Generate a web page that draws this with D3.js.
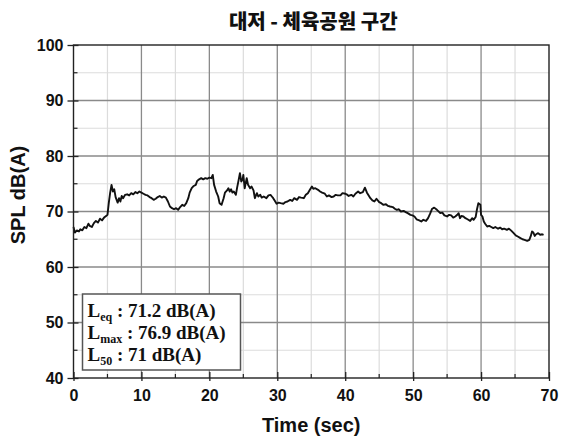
<!DOCTYPE html>
<html>
<head>
<meta charset="utf-8">
<script src="https://cdn.jsdelivr.net/npm/d3@7"></script>
<style>
  body { margin: 0; background: #fff; }
  svg { display: block; }
</style>
</head>
<body>
<div id="chart"></div>
<script>
// chart data
var chartTitle = "대저 - 체육공원 구간";
var xTicks = [0, 10, 20, 30, 40, 50, 60, 70];
var yTicks = [40, 50, 60, 70, 80, 90, 100];
var statNames = ["eq", "max", "50"];
var statValues = ["71.2 dB(A)", "76.9 dB(A)", "71 dB(A)"];

var timeSec = [
  0.0, 0.2, 0.5, 0.8, 1.0, 1.3, 1.6, 1.9, 2.2, 2.4, 2.7, 3.0, 3.3, 3.6, 3.9, 4.2, 4.5, 4.8, 5.0, 5.2,
  5.4, 5.6, 5.8, 6.0, 6.2, 6.5, 6.7, 6.9, 7.1, 7.3, 7.6, 7.9, 8.2, 8.5, 8.8, 9.1, 9.4, 9.7, 10.0, 10.3,
  10.6, 10.9, 11.2, 11.5, 11.8, 12.1, 12.4, 12.7, 13.0, 13.3, 13.6, 13.9, 14.2, 14.5, 14.8, 15.1, 15.4, 15.7, 16.0, 16.3,
  16.6, 16.9, 17.1, 17.4, 17.7, 18.0, 18.2, 18.5, 18.8, 19.1, 19.4, 19.7, 20.0, 20.3, 20.5, 20.7, 21.0, 21.3, 21.5, 21.8,
  22.1, 22.3, 22.6, 22.8, 23.0, 23.2, 23.4, 23.6, 23.9, 24.1, 24.3, 24.5, 24.7, 24.9, 25.0, 25.2, 25.5, 25.7, 26.0, 26.2,
  26.5, 26.7, 27.0, 27.2, 27.5, 27.7, 28.0, 28.4, 28.7, 29.0, 29.2, 29.4, 29.7, 29.9, 30.2, 30.5, 30.9, 31.2, 31.5, 31.9,
  32.2, 32.5, 32.9, 33.2, 33.5, 33.9, 34.2, 34.5, 34.8, 35.1, 35.3, 35.6, 36.0, 36.3, 36.6, 37.0, 37.3, 37.6, 38.0, 38.3,
  38.6, 38.9, 39.3, 39.6, 40.0, 40.2, 40.5, 40.9, 41.2, 41.5, 41.9, 42.2, 42.6, 42.9, 43.2, 43.5, 43.7, 44.0, 44.3, 44.6,
  45.0, 45.3, 45.6, 46.0, 46.3, 46.6, 47.0, 47.3, 47.6, 47.9, 48.2, 48.6, 48.9, 49.2, 49.6, 49.9, 50.2, 50.5, 50.9, 51.2,
  51.5, 51.9, 52.2, 52.5, 52.8, 53.1, 53.5, 54.0, 54.3, 54.6, 55.0, 55.3, 55.6, 55.9, 56.2, 56.5, 56.7, 56.9, 57.1, 57.4,
  57.7, 58.0, 58.4, 58.7, 58.9, 59.2, 59.4, 59.6, 59.9, 60.0, 60.2, 60.4, 60.6, 60.9, 61.2, 61.5, 61.8, 62.1, 62.5, 62.8,
  63.1, 63.4, 63.8, 64.1, 64.4, 64.8, 65.1, 65.4, 65.8, 66.1, 66.4, 66.8, 67.1, 67.3, 67.5, 67.7, 67.9, 68.1, 68.4, 68.7,
  69.0, 69.2
];
var splValues = [
  67.2, 66.2, 66.6, 66.4, 66.8, 66.6, 67.2, 67.0, 67.8, 67.4, 67.2, 67.9, 68.3, 68.0, 68.7, 68.4, 68.9, 69.2, 69.4, 71.6,
  73.4, 74.8, 73.6, 74.0, 72.6, 71.6, 72.4, 71.8, 72.8, 72.4, 73.0, 73.1, 72.9, 73.3, 73.1, 73.5, 73.3, 73.6, 73.4, 73.2,
  73.0, 72.9, 72.6, 72.4, 72.1, 72.3, 72.6, 72.8, 72.5, 72.7, 72.5, 71.8, 70.9, 70.6, 70.4, 70.6, 70.3, 70.8, 71.2, 71.0,
  71.5, 72.4, 73.4, 74.2, 74.6, 74.8, 75.5, 75.8, 76.0, 75.8, 76.0, 75.9, 76.1, 76.0, 76.6, 74.8, 73.6, 72.7, 71.5, 71.2,
  72.4, 73.4, 73.8, 74.2, 73.6, 74.0, 73.4, 73.6, 73.0, 74.4, 75.6, 76.9, 75.4, 75.8, 76.6, 74.2, 76.0, 74.8, 74.2, 74.5,
  73.8, 72.4, 73.3, 72.7, 73.0, 72.5, 72.7, 72.4, 72.9, 73.0, 72.7, 72.4, 71.8, 71.4, 71.6, 71.5, 71.4, 71.7, 71.8, 72.1,
  71.9, 72.4, 72.1, 72.6, 72.5, 72.4, 73.0, 73.3, 73.9, 74.5, 74.1, 74.2, 73.9, 73.6, 73.4, 73.2, 72.7, 72.9, 72.6, 72.7,
  73.0, 72.9, 72.9, 73.3, 73.2, 73.1, 72.8, 73.0, 72.7, 73.2, 73.6, 73.3, 73.5, 74.3, 73.4, 72.8, 72.4, 72.0, 71.8, 72.3,
  71.7, 71.5, 71.2, 71.3, 71.0, 70.9, 70.8, 70.5, 70.3, 70.4, 70.0, 70.1, 69.9, 69.7, 69.4, 69.3, 69.1, 68.6, 68.4, 68.2,
  68.5, 68.3, 68.8, 69.6, 70.5, 70.7, 70.3, 69.7, 69.8, 69.3, 69.1, 69.4, 69.3, 68.9, 69.1, 69.4, 69.7, 68.8, 69.2, 69.1,
  68.8, 68.6, 68.3, 68.8, 68.5, 69.0, 70.4, 71.5, 71.2, 69.4, 69.1, 68.2, 67.8, 67.3, 67.4, 67.2, 67.0, 67.2, 66.9, 67.1,
  66.8, 66.9, 66.7, 66.9, 66.6, 66.1, 65.7, 65.5, 65.2, 65.0, 64.9, 64.7, 64.9, 65.5, 66.4, 66.2, 65.6, 65.9, 66.1, 65.8,
  65.9, 65.8
];

var width = 564, height = 439;
var margin = {top: 45, right: 15, bottom: 61, left: 73.5};
var plotW = width - margin.left - margin.right;
var plotH = height - margin.top - margin.bottom;

var svg = d3.select("#chart").append("svg")
  .attr("width", width)
  .attr("height", height);

var x = d3.scaleLinear().domain([0, 70]).range([0, plotW]);
var y = d3.scaleLinear().domain([40, 100]).range([plotH, 0]);

var g = svg.append("g")
  .attr("transform", "translate(" + margin.left + "," + margin.top + ")");

var minorX = d3.range(5, 70, 10);
var minorY = d3.range(45, 100, 10);

// minor grid
g.append("g").selectAll("line").data(minorX).enter().append("line")
  .attr("x1", d => x(d)).attr("x2", d => x(d))
  .attr("y1", 0).attr("y2", plotH)
  .attr("stroke", "#dcdcdc").attr("stroke-width", 1.2);
g.append("g").selectAll("line").data(minorY).enter().append("line")
  .attr("y1", d => y(d)).attr("y2", d => y(d))
  .attr("x1", 0).attr("x2", plotW)
  .attr("stroke", "#dcdcdc").attr("stroke-width", 1.2);

// major grid
g.append("g").selectAll("line").data(xTicks.slice(1, -1)).enter().append("line")
  .attr("x1", d => x(d)).attr("x2", d => x(d))
  .attr("y1", 0).attr("y2", plotH)
  .attr("stroke", "#8a8a8a").attr("stroke-width", 1.3);
g.append("g").selectAll("line").data(yTicks.slice(1, -1)).enter().append("line")
  .attr("y1", d => y(d)).attr("y2", d => y(d))
  .attr("x1", 0).attr("x2", plotW)
  .attr("stroke", "#8a8a8a").attr("stroke-width", 1.3);

// data line
var line = d3.line()
  .x((d, i) => x(timeSec[i]))
  .y(d => y(d));

g.append("path")
  .datum(splValues)
  .attr("fill", "none")
  .attr("stroke", "#111")
  .attr("stroke-width", 1.9)
  .attr("stroke-linejoin", "round")
  .attr("d", line);

// frame
g.append("rect")
  .attr("width", plotW).attr("height", plotH)
  .attr("fill", "none").attr("stroke", "#222").attr("stroke-width", 1.4);

// axes
var xAxis = g.append("g")
  .attr("transform", "translate(0," + plotH + ")")
  .call(d3.axisBottom(x).tickValues(xTicks).tickFormat(d3.format("d")).tickSizeOuter(0));
xAxis.select(".domain").remove();
xAxis.selectAll(".tick line").attr("y1", -6).attr("y2", 3).attr("stroke", "#222").attr("stroke-width", 1.3);
xAxis.selectAll(".tick text")
  .attr("y", 12)
  .style("font-family", "'Liberation Sans', Arial, sans-serif")
  .style("font-weight", "bold").style("font-size", "16px").attr("fill", "#111");

g.append("g").selectAll("line").data(minorX).enter().append("line")
  .attr("x1", d => x(d)).attr("x2", d => x(d))
  .attr("y1", plotH - 4).attr("y2", plotH)
  .attr("stroke", "#222").attr("stroke-width", 1.2);

var yAxis = g.append("g")
  .call(d3.axisLeft(y).tickValues(yTicks).tickFormat(d3.format("d")).tickSizeOuter(0));
yAxis.select(".domain").remove();
yAxis.selectAll(".tick line").attr("x1", -6).attr("x2", 5).attr("stroke", "#222").attr("stroke-width", 1.3);
yAxis.selectAll(".tick text")
  .attr("x", -10)
  .style("font-family", "'Liberation Sans', Arial, sans-serif")
  .style("font-weight", "bold").style("font-size", "16px").attr("fill", "#111");

g.append("g").selectAll("line").data(minorY).enter().append("line")
  .attr("y1", d => y(d)).attr("y2", d => y(d))
  .attr("x1", 0).attr("x2", 4)
  .attr("stroke", "#222").attr("stroke-width", 1.2);

// title and axis labels
svg.append("text")
  .attr("x", margin.left + plotW / 2 + 2).attr("y", 29)
  .attr("text-anchor", "middle")
  .style("font-family", "'Noto Sans CJK KR', sans-serif")
  .style("font-weight", "900").style("font-size", "20px")
  .attr("fill", "#111")
  .text(chartTitle);

svg.append("text")
  .attr("x", margin.left + plotW / 2).attr("y", 432)
  .attr("text-anchor", "middle")
  .style("font-family", "'Liberation Sans', Arial, sans-serif")
  .style("font-weight", "bold").style("font-size", "20px")
  .attr("fill", "#111")
  .text("Time (sec)");

svg.append("text")
  .attr("transform", "translate(25,195) rotate(-90)")
  .attr("text-anchor", "middle")
  .style("font-family", "'Liberation Sans', Arial, sans-serif")
  .style("font-weight", "bold").style("font-size", "20px")
  .attr("fill", "#111")
  .text("SPL dB(A)");

// stats box
var box = svg.append("g").attr("transform", "translate(82.5,294)");
box.append("rect")
  .attr("width", 158).attr("height", 76)
  .attr("fill", "#fff").attr("stroke", "#555").attr("stroke-width", 1.5);

var rows = box.selectAll("text.stat").data(statNames).enter().append("text")
  .attr("class", "stat")
  .attr("x", 5)
  .attr("y", (d, i) => 22.5 + i * 22)
  .style("font-family", "'Liberation Serif', 'Times New Roman', serif")
  .style("font-weight", "bold").style("font-size", "19px")
  .attr("fill", "#111");
rows.append("tspan").text("L");
rows.append("tspan").attr("dy", 4).style("font-size", "12px").text(d => d);
rows.append("tspan").attr("dy", -4).text((d, i) => " : " + statValues[i]);
</script>
</body>
</html>
